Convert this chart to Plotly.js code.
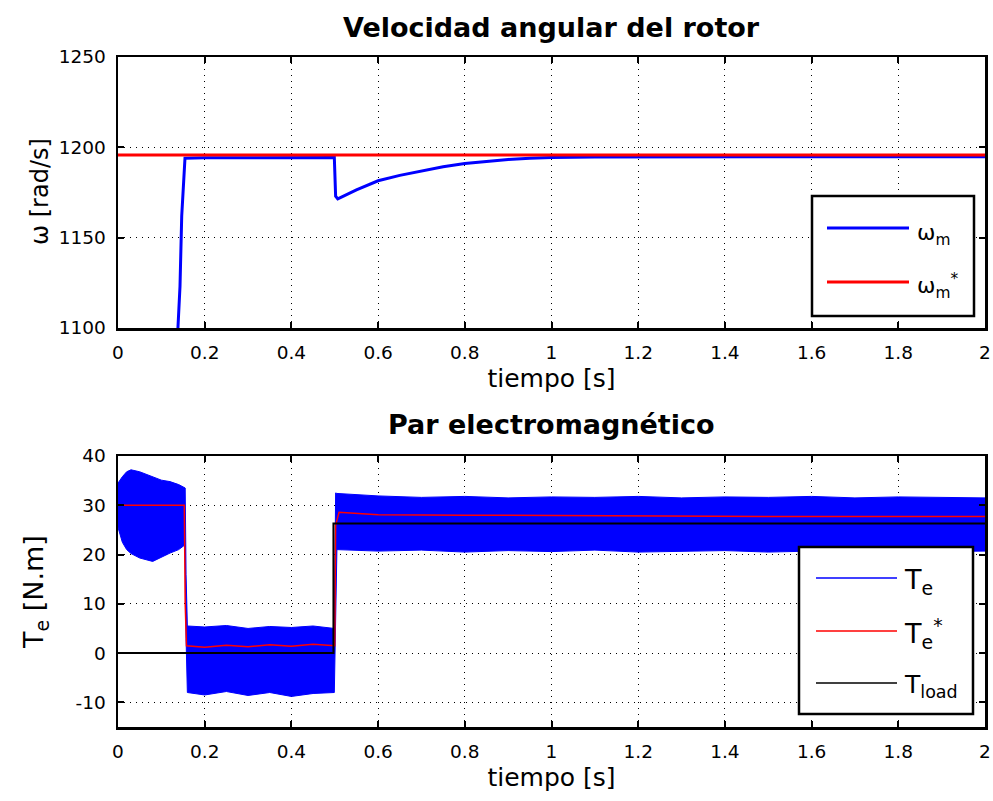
<!DOCTYPE html>
<html>
<head>
<meta charset="utf-8">
<script src="https://cdn.plot.ly/plotly-3.0.1.min.js"></script>
<style>html,body{margin:0;padding:0;background:#fff;}</style>
</head>
<body>
<div id="chart" style="width:993px;height:801px;"></div>
<script>
// ---------- Data: rotor angular speed ----------
const wTime = [0.13, 0.139, 0.143, 0.147, 0.1545, 0.2, 0.3, 0.4, 0.499, 0.502, 0.507, 0.55, 0.6, 0.65, 0.7, 0.75, 0.8, 0.85, 0.9, 0.95, 1.0, 1.1, 1.2, 1.4, 1.6, 1.8, 2.0];
const wM    = [1060, 1100, 1123, 1162, 1194, 1194.2, 1194.3, 1194.4, 1194.4, 1173, 1171.5, 1176.5, 1181.5, 1184.5, 1187, 1189.3, 1191, 1192.3, 1193.3, 1194, 1194.4, 1194.7, 1194.8, 1194.8, 1194.8, 1194.8, 1194.8];
const wRefTime = [0, 2];
const wRef     = [1195.8, 1195.8];

// ---------- Data: electromagnetic torque (ripple envelope of Te) ----------
const teTime  = [0, 0.01, 0.02, 0.03, 0.05, 0.08, 0.1, 0.12, 0.14, 0.155, 0.157, 0.16,
                 0.2, 0.25, 0.3, 0.35, 0.4, 0.45, 0.499, 0.502, 0.505,
                 0.6, 0.7, 0.8, 0.9, 1.0, 1.1, 1.2, 1.3, 1.4, 1.5, 1.6, 1.7, 1.8, 1.9, 2.0];
const teUpper = [34.5, 35.8, 36.8, 37.2, 36.8, 35.8, 35.1, 34.8, 34.2, 33.5, 16, 5.5,
                 5.3, 5.6, 5.0, 5.4, 5.2, 5.5, 5.0, 32.5, 32.4,
                 31.9, 31.6, 31.8, 31.5, 31.7, 31.6, 31.8, 31.5, 31.7, 31.6, 31.8, 31.5, 31.7, 31.6, 31.5];
const teLower = [25.5, 22.5, 21.0, 20.2, 19.3, 18.6, 19.4, 20.3, 21.0, 22.0, 3, -8.0,
                 -8.5, -7.8, -8.6, -8.0, -8.8, -8.2, -8.0, 8.0, 21.0,
                 20.7, 20.9, 20.5, 20.8, 20.6, 20.9, 20.5, 20.7, 20.8, 20.5, 20.7, 20.6, 20.8, 20.6, 20.7];
const teRefTime = [0, 0.153, 0.155, 0.158, 0.2, 0.25, 0.3, 0.35, 0.4, 0.45, 0.5, 0.502, 0.51, 0.6, 0.8, 1.0, 1.2, 1.5, 2.0];
const teRef     = [30, 30, 10, 1.5, 1.2, 1.6, 1.3, 1.7, 1.4, 1.8, 1.5, 26, 28.6, 28.1, 28.0, 27.9, 27.8, 27.7, 27.7];
const tLoadTime = [0, 0.497, 0.497, 2];
const tLoad     = [0, 0, 26.3, 26.3];

// ---------- Tick labels ----------
const xTickVals = [0, 0.2, 0.4, 0.6, 0.8, 1, 1.2, 1.4, 1.6, 1.8, 2];
const xTickText = ['0', '0.2', '0.4', '0.6', '0.8', '1', '1.2', '1.4', '1.6', '1.8', '2'];
const yTopTickVals = [1100, 1150, 1200, 1250];
const yTopTickText = ['1100', '1150', '1200', '1250'];
const yBotTickVals = [-10, 0, 10, 20, 30, 40];
const yBotTickText = ['-10', '0', '10', '20', '30', '40'];

// ---------- Text ----------
const topTitle = 'Velocidad angular del rotor';
const botTitle = 'Par electromagnético';
const xLabel = 'tiempo [s]';
const yTopLabel = 'ω [rad/s]';
const yBotLabel = 'T<sub>e</sub> [N.m]';
const topLegend = ['ω<sub>m</sub>', 'ω<sub>m</sub><sup>*</sup>'];
const botLegend = ['T<sub>e</sub>', 'T<sub>e</sub><sup>*</sup>', 'T<sub>load</sub>'];

// ---------- Geometry helpers (pixel -> paper) ----------
const W = 993, H = 801, L = 118, R = 985, T = 57, B = 727;
const px = v => (v - L) / (R - L);
const py = v => (B - v) / (B - T);

const FONT = 'DejaVu Sans, Liberation Sans, Arial, sans-serif';

// envelope polygon built from the upper / lower arrays
const polyX = teTime.concat(teTime.slice().reverse());
const polyY = teUpper.concat(teLower.slice().reverse());

const traces = [
  {x: wTime, y: wM, xaxis: 'x', yaxis: 'y', mode: 'lines', line: {color: '#0000ff', width: 3}, name: 'ωm'},
  {x: wRefTime, y: wRef, xaxis: 'x', yaxis: 'y', mode: 'lines', line: {color: '#ff0000', width: 3}, name: 'ωm*'},
  {x: polyX, y: polyY, xaxis: 'x2', yaxis: 'y2', mode: 'lines', fill: 'toself', fillcolor: '#0000ff',
   line: {color: '#0000ff', width: 1}, name: 'Te'},
  {x: teRefTime, y: teRef, xaxis: 'x2', yaxis: 'y2', mode: 'lines', line: {color: '#ff0000', width: 1.5}, name: 'Te*'},
  {x: tLoadTime, y: tLoad, xaxis: 'x2', yaxis: 'y2', mode: 'lines', line: {color: '#000000', width: 2}, name: 'Tload'}
];

const axisCommon = {
  showline: true, linecolor: '#000', linewidth: 2.5, mirror: 'allticks',
  ticks: 'inside', ticklen: 6, tickwidth: 2, tickcolor: '#000',
  showgrid: true, gridcolor: '#000', gridwidth: 1, griddash: '1px,5px',
  zeroline: false, tickfont: {family: FONT, size: 18.5, color: '#000'},
  ticklabelstandoff: 6, fixedrange: true, tickmode: 'array'
};

const layout = {
  width: W, height: H,
  margin: {l: L, r: W - R, t: T, b: H - B},
  paper_bgcolor: '#fff', plot_bgcolor: '#fff',
  showlegend: false,
  font: {family: FONT, color: '#000'},
  xaxis: Object.assign({}, axisCommon, {domain: [0, 1], anchor: 'y', range: [0, 2], tickvals: xTickVals, ticktext: xTickText,
    title: {text: xLabel, font: {family: FONT, size: 25, color: '#000'}, standoff: 8}}),
  yaxis: Object.assign({}, axisCommon, {domain: [py(328), 1], anchor: 'x', range: [1100, 1250], tickvals: yTopTickVals, ticktext: yTopTickText}),
  xaxis2: Object.assign({}, axisCommon, {domain: [0, 1], anchor: 'y2', range: [0, 2], tickvals: xTickVals, ticktext: xTickText,
    title: {text: xLabel, font: {family: FONT, size: 25, color: '#000'}, standoff: 8}}),
  yaxis2: Object.assign({}, axisCommon, {domain: [0, py(456)], anchor: 'x2', range: [-15, 40], tickvals: yBotTickVals, ticktext: yBotTickText}),
  annotations: [],
  shapes: []
};

// subplot titles
layout.annotations.push({text: '<b>' + topTitle + '</b>', xref: 'paper', yref: 'paper', x: 0.5, y: py(28),
  xanchor: 'center', yanchor: 'middle', showarrow: false, font: {family: FONT, size: 27, color: '#000'}});
layout.annotations.push({text: '<b>' + botTitle + '</b>', xref: 'paper', yref: 'paper', x: 0.5, y: py(424),
  xanchor: 'center', yanchor: 'middle', showarrow: false, font: {family: FONT, size: 27, color: '#000'}});
// y-axis titles (rotated)
layout.annotations.push({text: yTopLabel, xref: 'paper', yref: 'paper', x: px(40), y: py(192), textangle: -90,
  xanchor: 'center', yanchor: 'middle', showarrow: false, font: {family: FONT, size: 24, color: '#000'}});
layout.annotations.push({text: yBotLabel, xref: 'paper', yref: 'paper', x: px(35), y: py(592), textangle: -90,
  xanchor: 'center', yanchor: 'middle', showarrow: false, font: {family: FONT, size: 27, color: '#000'}});

// custom legend boxes (MATLAB style)
function legendBox(x0, y0, x1, y1, items) {
  layout.shapes.push({type: 'rect', xref: 'paper', yref: 'paper', x0: px(x0), x1: px(x1), y0: py(y0), y1: py(y1),
    fillcolor: '#fff', line: {color: '#000', width: 2.5}, layer: 'above'});
  items.forEach(it => {
    layout.shapes.push({type: 'line', xref: 'paper', yref: 'paper', x0: px(it.lx0), x1: px(it.lx1), y0: py(it.ly), y1: py(it.ly),
      line: {color: it.color, width: it.w}, layer: 'above'});
    layout.annotations.push({text: it.text, xref: 'paper', yref: 'paper', x: px(it.tx), y: py(it.ty),
      xanchor: 'left', yanchor: 'middle', showarrow: false, font: {family: FONT, size: it.size, color: '#000'}});
  });
}
legendBox(812, 196, 974, 316, [
  {lx0: 827, lx1: 909, ly: 228, color: '#0000ff', w: 3, text: topLegend[0], tx: 915, ty: 234, size: 22},
  {lx0: 827, lx1: 909, ly: 282, color: '#ff0000', w: 3, text: topLegend[1], tx: 915, ty: 286, size: 22}
]);
legendBox(799, 547, 973, 714, [
  {lx0: 816, lx1: 897, ly: 578, color: '#0000ff', w: 1.5, text: botLegend[0], tx: 902, ty: 581, size: 27},
  {lx0: 816, lx1: 897, ly: 631, color: '#ff0000', w: 1.5, text: botLegend[1], tx: 902, ty: 633, size: 27},
  {lx0: 816, lx1: 897, ly: 683, color: '#000000', w: 1.5, text: botLegend[2], tx: 902, ty: 686, size: 25}
]);

Plotly.newPlot('chart', traces, layout, {staticPlot: true, displayModeBar: false});
</script>
</body>
</html>
